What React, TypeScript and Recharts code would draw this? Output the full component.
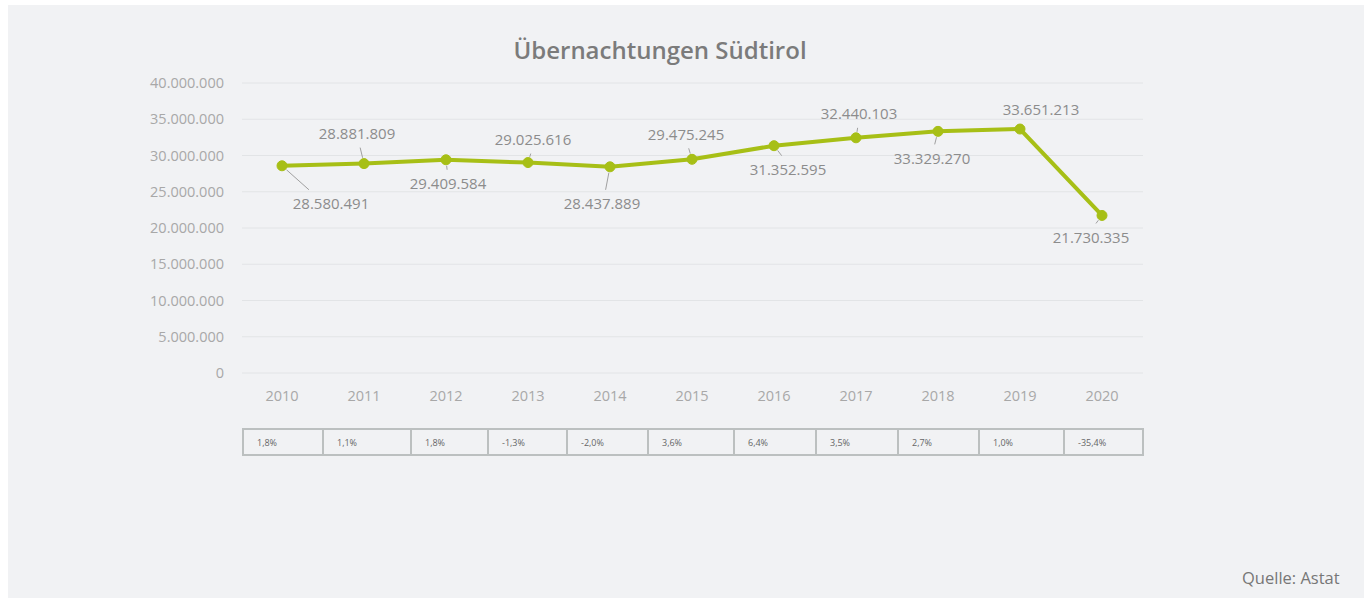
import React from "react";
import { LineChart, Line, XAxis, YAxis, CartesianGrid } from "recharts";

const years = ["2010", "2011", "2012", "2013", "2014", "2015", "2016", "2017", "2018", "2019", "2020"];
const nights = [28580491, 28881809, 29409584, 29025616, 28437889, 29475245, 31352595, 32440103, 33329270, 33651213, 21730335];
const changes = ["1,8%", "1,1%", "1,8%", "-1,3%", "-2,0%", "3,6%", "6,4%", "3,5%", "2,7%", "1,0%", "-35,4%"];
const yTicks = [0, 5000000, 10000000, 15000000, 20000000, 25000000, 30000000, 35000000, 40000000];

// layout-only constants
const labelOffsets: [number, number][] = [
  [49, 38], [-7, -30], [2, 24], [5, -23], [-8, 37], [-6, -25], [14, 24], [3, -24], [-6, 27], [21, -19], [-11, 22],
];
const colWidths = [80, 88, 77, 79, 81, 86, 82, 82, 81, 85, 79];

const fmt = (n: number) => String(Math.round(n)).replace(/\B(?=(\d{3})+(?!\d))/g, ".");

const data = years.map((y, i) => ({ year: y, value: nights[i] }));

const FONT = "'Open Sans', sans-serif";
const LINE = "#a7bf16";

const PointLabel = (props: any) => {
  const { x, y, index, value } = props;
  const [dx, dy] = labelOffsets[index];
  const cx = x + dx;
  const cy = y + dy;
  const s = dy > 0 ? 1 : -1;
  const ex = x + dx * 0.55;
  const ey = cy - s * 14;
  const len = Math.hypot(ex - x, ey - y) || 1;
  const sx = x + ((ex - x) / len) * 6;
  const sy = y + ((ey - y) / len) * 6;
  const showLine = Math.abs(ey - y) > 6;
  return (
    <g>
      {showLine && <line x1={sx} y1={sy} x2={ex} y2={ey} stroke="#a0a0a0" strokeWidth={1} />}
      <text x={cx} y={cy} dy="0.35em" textAnchor="middle" fontSize={15} fill="#8c8c8c" fontFamily={FONT}>
        {fmt(value)}
      </text>
    </g>
  );
};

export default function App() {
  return (
    <div style={{ position: "absolute", left: 8, top: 5, width: 1356, height: 593, background: "#f1f2f4", fontFamily: FONT }}>
      <div style={{ position: "absolute", left: 0, top: 28, width: 1304, textAlign: "center", fontSize: 24, fontWeight: 600, color: "#7b7b7b" }}>
        Übernachtungen Südtirol
      </div>
      <div style={{ position: "absolute", left: 0, top: 0 }}>
        <LineChart width={1356} height={593} data={data} margin={{ top: 78, right: 221, bottom: 195, left: 0 }}>
          <CartesianGrid horizontal vertical={false} stroke="#e2e4e6" strokeWidth={1} />
          <XAxis
            dataKey="year"
            axisLine={false}
            tickLine={false}
            tickSize={0}
            tickMargin={18}
            height={30}
            padding={{ left: 40, right: 41 }}
            tick={{ fill: "#a8a8a8", fontSize: 14.5, fontFamily: FONT }}
            interval={0}
          />
          <YAxis
            width={234}
            domain={[0, 40000000]}
            ticks={yTicks}
            tickFormatter={fmt}
            axisLine={false}
            tickLine={false}
            tickSize={0}
            tickMargin={18}
            tick={{ fill: "#a8a8a8", fontSize: 14.5, fontFamily: FONT }}
            interval={0}
          />
          <Line
            type="linear"
            dataKey="value"
            stroke={LINE}
            strokeWidth={4}
            dot={{ r: 5, fill: LINE, stroke: LINE, strokeWidth: 1 }}
            activeDot={false}
            isAnimationActive={false}
            label={<PointLabel />}
          />
        </LineChart>
      </div>
      <table
        style={{
          position: "absolute",
          left: 234,
          top: 423,
          width: 901,
          height: 28,
          borderCollapse: "collapse",
          tableLayout: "fixed",
          fontSize: 9,
          color: "#666",
        }}
      >
        <colgroup>
          {colWidths.map((w, i) => (
            <col key={i} style={{ width: w }} />
          ))}
        </colgroup>
        <tbody>
          <tr>
            {changes.map((c, i) => (
              <td key={i} style={{ border: "2px solid #bcc0c0", padding: "0 0 0 13px", textAlign: "left" }}>
                {c}
              </td>
            ))}
          </tr>
        </tbody>
      </table>
      <div style={{ position: "absolute", left: 1234, top: 561, fontSize: 16.5, color: "#777" }}>Quelle: Astat</div>
    </div>
  );
}
